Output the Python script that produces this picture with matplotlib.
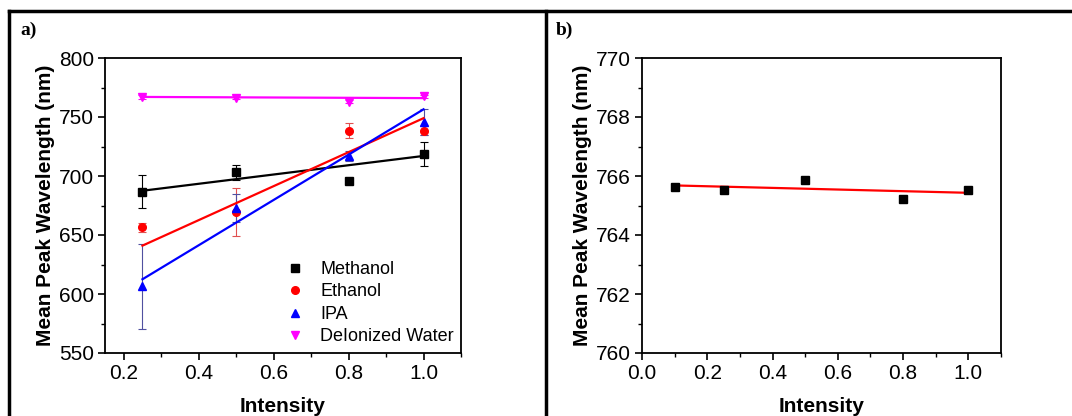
import matplotlib.pyplot as plt
from matplotlib.lines import Line2D
from matplotlib.ticker import MultipleLocator

plt.rcParams['font.family'] = ['Liberation Sans', 'DejaVu Sans']

# ---- panel a data ----
x_a = [0.25, 0.5, 0.8, 1.0]
methanol = [686.5, 703.0, 695.5, 718.5]
methanol_err = [14.0, 6.0, 1.0, 10.0]
ethanol = [656.5, 669.5, 738.5, 738.5]
ethanol_err = [4.0, 20.0, 6.0, 4.0]
ipa = [606.5, 673.0, 717.0, 746.0]
ipa_err = [36.0, 12.0, 4.0, 11.0]
water = [767.0, 766.0, 763.0, 767.5]
water_err = [2.0, 1.0, 1.0, 1.5]

# fitted lines read at the end points
fit_x = [0.25, 1.0]
methanol_fit = [687.5, 717.0]
ethanol_fit = [641.0, 749.0]
ipa_fit = [612.5, 756.5]
water_fit = [767.0, 766.0]

# ---- panel b data ----
x_b = [0.1, 0.25, 0.5, 0.8, 1.0]
water_b = [765.63, 765.53, 765.87, 765.21, 765.53]
fit_b_x = [0.1, 1.0]
fit_b = [765.68, 765.43]

fig = plt.figure(figsize=(10.72, 4.16), dpi=100)
W, H = 1072., 416.

def px_axes(l, t, r, b):
    return fig.add_axes([l / W, 1 - b / H, (r - l) / W, (b - t) / H])

ax1 = px_axes(105, 58, 461, 353)
ax2 = px_axes(642, 58, 1001, 353)

series = [
    ('Methanol', methanol, methanol_err, methanol_fit, 'black', 's', 'black'),
    ('Ethanol', ethanol, ethanol_err, ethanol_fit, 'red', 'o', '#e05050'),
    ('IPA', ipa, ipa_err, ipa_fit, 'blue', '^', '#5050a0'),
    ('DeIonized Water', water, water_err, water_fit, '#ff00ff', 'v', '#ff00ff'),
]
handles = []
for name, y, err, fit, col, mk, ecol in series:
    ax1.errorbar(x_a, y, yerr=err, fmt='none', ecolor=ecol, elinewidth=0.8,
                 capsize=3, capthick=0.8, zorder=2)
    ax1.plot(x_a, y, linestyle='none', marker=mk, color=col, markersize=5.5, zorder=3)
    ax1.plot(fit_x, fit, color=col, linewidth=1.6, zorder=4)
    handles.append(Line2D([], [], linestyle='none', marker=mk, color=col,
                          markersize=5.5, label=name))

ax1.set_xlim(0.15, 1.1)
ax1.set_ylim(550, 800)
ax1.xaxis.set_minor_locator(MultipleLocator(0.1))
ax1.yaxis.set_major_locator(MultipleLocator(50))
ax1.yaxis.set_minor_locator(MultipleLocator(25))
ax1.set_xticks([0.2, 0.4, 0.6, 0.8, 1.0])
ax1.set_xticklabels(['0.2', '0.4', '0.6', '0.8', '1.0'])
ax1.legend(handles=handles, loc='center left', frameon=False, fontsize=13,
           handlelength=1.0, handletextpad=0.9, borderpad=0, borderaxespad=0,
           labelspacing=0.3, bbox_to_anchor=(0.508, 0.169))

ax2.plot(x_b, water_b, linestyle='none', marker='s', color='black', markersize=5.5, zorder=3)
ax2.plot(fit_b_x, fit_b, color='red', linewidth=1.6, zorder=2)
ax2.set_xlim(0.0, 1.1)
ax2.set_ylim(760, 770)
ax2.xaxis.set_minor_locator(MultipleLocator(0.1))
ax2.yaxis.set_major_locator(MultipleLocator(2))
ax2.yaxis.set_minor_locator(MultipleLocator(1))
ax2.set_xticks([0.0, 0.2, 0.4, 0.6, 0.8, 1.0])
ax2.set_xticklabels(['0.0', '0.2', '0.4', '0.6', '0.8', '1.0'])

for ax in (ax1, ax2):
    for s in ax.spines.values():
        s.set_linewidth(1.3)
    ax.tick_params(which='major', direction='out', length=5, width=1.2,
                   labelsize=15, pad=3)
    ax.tick_params(which='minor', direction='out', length=3, width=1.0)
    ax.set_xlabel('Intensity', fontsize=15, fontweight='bold', labelpad=10)
    ax.set_ylabel('Mean Peak Wavelength (nm)', fontsize=15, fontweight='bold',
                  labelpad=3)

# outer frame of the figure
fig.add_artist(Line2D([9 / W, 1.0], [1 - 11 / H, 1 - 11 / H], color='black',
                      linewidth=2.5, transform=fig.transFigure))
fig.add_artist(Line2D([9 / W, 9 / W], [0, 1 - 11 / H], color='black',
                      linewidth=2.5, transform=fig.transFigure))
fig.add_artist(Line2D([546 / W, 546 / W], [0, 1 - 11 / H], color='black',
                      linewidth=2.5, transform=fig.transFigure))

fig.text(20 / W, 1 - 30 / H, 'a)', fontsize=14, fontweight='bold',
         family='Liberation Serif', va='center')
fig.text(556 / W, 1 - 30 / H, 'b)', fontsize=14, fontweight='bold',
         family='Liberation Serif', va='center')

fig.savefig('out.png', dpi=100)
